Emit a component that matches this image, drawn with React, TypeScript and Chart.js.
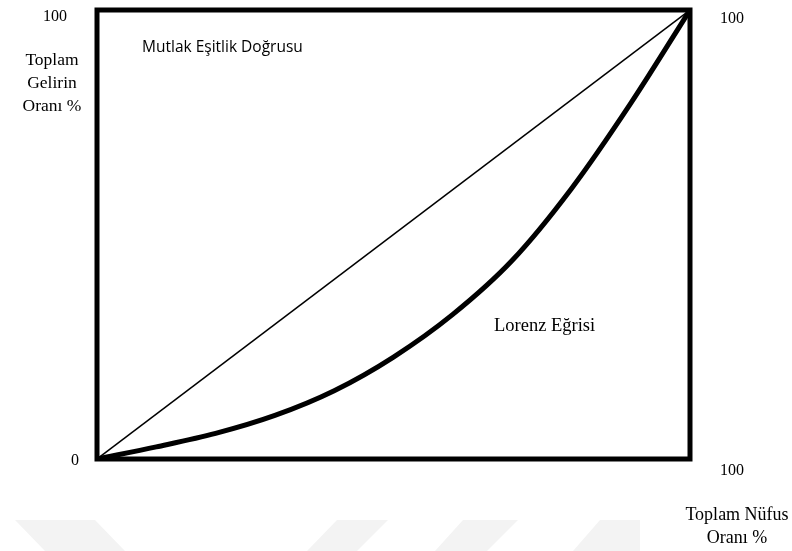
import React, { useEffect, useRef } from "react";
import { Chart, registerables } from "chart.js";

Chart.register(...registerables);

// Population share (%) and Lorenz income share (%)
const populationShare = [0, 10, 20, 30, 40, 50, 60, 70, 80, 90, 100];
const lorenzIncome = [0, 2.7, 5.7, 9.7, 15.2, 22.7, 32.2, 44.2, 60.2, 79.2, 100];
const equalityLine = [0, 100];

const yAxisTitle = ["Toplam", "Gelirin", "Oranı %"];
const xAxisTitle = ["Toplam Nüfus", "Oranı %"];
const equalityLabel = "Mutlak Eşitlik Doğrusu";
const lorenzLabel = "Lorenz Eğrisi";
const tickMin = "0";
const tickMax = "100";

const W = 792;
const H = 551;

const decorPlugin = {
  id: "decor",
  beforeDraw(chart: any) {
    const ctx = chart.ctx;
    ctx.save();
    ctx.fillStyle = "#f3f3f3";
    const shapes: number[][][] = [
      [[15, 520], [95, 520], [125, 551], [45, 551]],
      [[337, 520], [388, 520], [357, 551], [307, 551]],
      [[463, 520], [518, 520], [487, 551], [435, 551]],
      [[600, 520], [640, 520], [640, 551], [573, 551]],
    ];
    for (const s of shapes) {
      ctx.beginPath();
      ctx.moveTo(s[0][0], s[0][1]);
      for (let i = 1; i < s.length; i++) ctx.lineTo(s[i][0], s[i][1]);
      ctx.closePath();
      ctx.fill();
    }
    ctx.restore();
  },
  afterDraw(chart: any) {
    const ctx = chart.ctx;
    const a = chart.chartArea;
    ctx.save();
    ctx.strokeStyle = "#000";
    ctx.lineWidth = 5;
    ctx.lineJoin = "miter";
    ctx.strokeRect(a.left, a.top, a.right - a.left, a.bottom - a.top);

    ctx.fillStyle = "#000";
    ctx.textBaseline = "middle";
    ctx.textAlign = "center";
    ctx.font = '16px "Liberation Serif"';
    ctx.fillText(tickMax, 55, a.top + 7);
    ctx.fillText(tickMin, 75, a.bottom + 2);
    ctx.fillText(tickMax, 732, a.top + 9);
    ctx.fillText(tickMax, 732, a.bottom + 12);
    ctx.font = '17.5px "Liberation Serif"';
    yAxisTitle.forEach((t, i) => ctx.fillText(t, 52, a.top + 50 + i * 23));
    ctx.font = '18px "Liberation Serif"';
    xAxisTitle.forEach((t, i) => ctx.fillText(t, 737, a.bottom + 56 + i * 23));
    ctx.textAlign = "left";
    ctx.font = '18.5px "Liberation Serif"';
    ctx.fillText(lorenzLabel, 494, 326);
    ctx.font = '15.5px "Open Sans"';
    ctx.fillText(equalityLabel, 142, 48);
    ctx.restore();
  },
};

export default function App() {
  const ref = useRef<HTMLCanvasElement | null>(null);
  useEffect(() => {
    if (!ref.current) return;
    const chart = new Chart(ref.current, {
      type: "scatter",
      data: {
        datasets: [
          {
            label: equalityLabel,
            data: equalityLine.map((v) => ({ x: v, y: v })),
            showLine: true,
            borderColor: "#000",
            borderWidth: 1.5,
            pointRadius: 0,
          },
          {
            label: lorenzLabel,
            data: populationShare.map((x, i) => ({ x, y: lorenzIncome[i] })),
            showLine: true,
            borderColor: "#000",
            borderWidth: 5,
            pointRadius: 0,
            cubicInterpolationMode: "monotone",
          },
        ],
      },
      options: {
        responsive: false,
        animation: false,
        layout: { padding: { left: 97, top: 10, right: 102, bottom: 92 } },
        plugins: { legend: { display: false }, tooltip: { enabled: false } },
        scales: {
          x: { type: "linear", min: 0, max: 100, display: false },
          y: { type: "linear", min: 0, max: 100, display: false },
        },
      },
      plugins: [decorPlugin],
    } as any);
    return () => chart.destroy();
  }, []);
  return (
    <div style={{ position: "fixed", left: 0, top: 0, width: W, height: H, background: "#fff" }}>
      <canvas ref={ref} width={W} height={H} style={{ width: W, height: H, display: "block" }} />
    </div>
  );
}
